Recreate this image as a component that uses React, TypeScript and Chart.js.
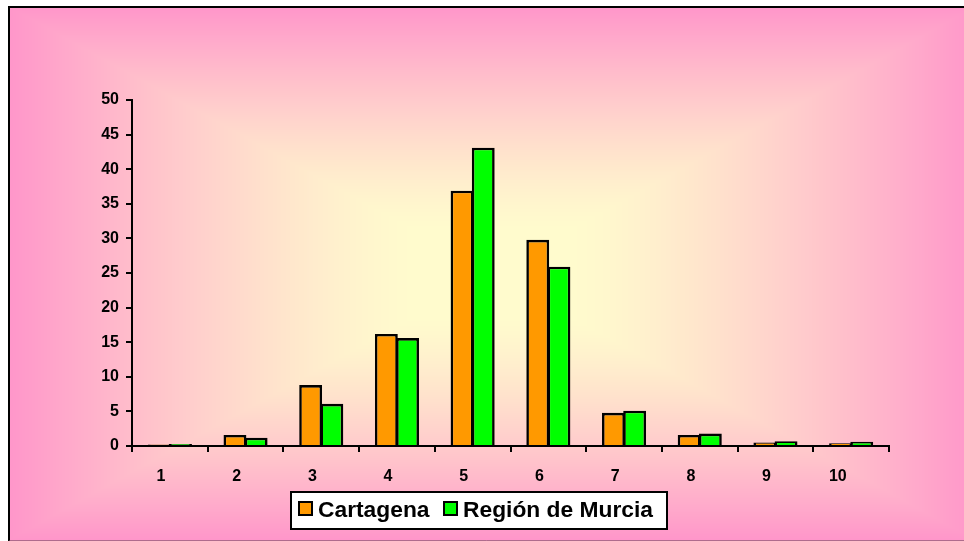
import React, { useEffect, useRef } from 'react';
import { Chart, registerables } from 'chart.js';

Chart.register(...registerables);

const categories = ['1', '2', '3', '4', '5', '6', '7', '8', '9', '10'];
const seriesNames = ['Cartagena', 'Región de Murcia'];
const cartagena = [0.2, 1.6, 8.8, 16.2, 36.9, 29.8, 4.8, 1.6, 0.5, 0.4];
const murcia = [0.3, 1.2, 6.1, 15.6, 43.1, 25.9, 5.1, 1.8, 0.7, 0.6];
const seriesColors = ['#FF9900', '#00FF00'];
const yMin = 0;
const yMax = 50;
const yStep = 5;

const FONT = '"Liberation Sans", Arial, Helvetica, sans-serif';

let bgCache: HTMLCanvasElement | null = null;

function buildBackground(w: number, h: number): HTMLCanvasElement {
  const c = document.createElement('canvas');
  c.width = w;
  c.height = h;
  const cx2 = c.getContext('2d') as CanvasRenderingContext2D;
  const img = cx2.createImageData(w, h);
  const x0 = 9, y0 = 7, x1 = 975, y1 = 540;
  const cx = (x0 + x1) / 2, cy = (y0 + y1) / 2;
  const hw = (x1 - x0) / 2, hh = (y1 - y0) / 2;
  const cC = [255, 251, 205];
  const cE = [255, 150, 202];
  const t0 = 0.16, t1 = 1.0;
  for (let y = 0; y < h; y++) {
    for (let x = 0; x < w; x++) {
      const i = (y * w + x) * 4;
      if (x < x0 || y < y0 || y > y1) {
        img.data[i] = 255; img.data[i + 1] = 255; img.data[i + 2] = 255; img.data[i + 3] = 255;
        continue;
      }
      const t = Math.max(Math.abs(x + 0.5 - cx) / hw, Math.abs(y + 0.5 - cy) / hh);
      let f = (t - t0) / (t1 - t0);
      f = Math.min(1, Math.max(0, f));
      f = Math.pow(f, 1.35);
      img.data[i] = Math.round(cC[0] + (cE[0] - cC[0]) * f);
      img.data[i + 1] = Math.round(cC[1] + (cE[1] - cC[1]) * f);
      img.data[i + 2] = Math.round(cC[2] + (cE[2] - cC[2]) * f);
      img.data[i + 3] = 255;
    }
  }
  cx2.putImageData(img, 0, 0);
  return c;
}

const backgroundPlugin = {
  id: 'bgFrame',
  beforeDraw(chart: any) {
    const ctx = chart.ctx as CanvasRenderingContext2D;
    if (!bgCache) bgCache = buildBackground(chart.width, chart.height);
    ctx.save();
    ctx.drawImage(bgCache, 0, 0);
    ctx.strokeStyle = '#000';
    ctx.lineWidth = 2;
    ctx.beginPath();
    ctx.moveTo(9, 541);
    ctx.lineTo(9, 7);
    ctx.lineTo(964, 7);
    ctx.stroke();
    ctx.strokeStyle = 'rgba(120,80,100,0.6)';
    ctx.lineWidth = 1;
    ctx.beginPath();
    ctx.moveTo(9, 540.5);
    ctx.lineTo(964, 540.5);
    ctx.stroke();
    ctx.restore();
  },
};

const legendPlugin = {
  id: 'boxLegend',
  afterDraw(chart: any) {
    const ctx = chart.ctx as CanvasRenderingContext2D;
    ctx.save();
    ctx.fillStyle = '#ffffff';
    ctx.fillRect(290, 491, 378, 39);
    ctx.strokeStyle = '#000';
    ctx.lineWidth = 2;
    ctx.strokeRect(291, 492, 376, 37);
    const markerX = [299, 444];
    const textX = [318, 463];
    ctx.font = `bold 22.8px ${FONT}`;
    ctx.textBaseline = 'alphabetic';
    ctx.textAlign = 'left';
    chart.data.datasets.forEach((ds: any, i: number) => {
      ctx.fillStyle = ds.backgroundColor;
      ctx.fillRect(markerX[i], 502, 13, 13);
      ctx.lineWidth = 2;
      ctx.strokeStyle = '#000';
      ctx.strokeRect(markerX[i], 502, 13, 13);
      ctx.fillStyle = '#000';
      ctx.fillText(ds.label, textX[i], 517);
    });
    ctx.restore();
  },
};

export default function App() {
  const ref = useRef<HTMLCanvasElement | null>(null);
  useEffect(() => {
    if (!ref.current) return;
    const tickFont = { family: FONT, size: 16, weight: 'bold' as const };
    const barCommon = {
      borderColor: '#000',
      borderWidth: 2.6,
      categoryPercentage: 0.56,
      barPercentage: 1.08,
      inflateAmount: 0,
    };
    const chart = new Chart(ref.current, {
      type: 'bar',
      data: {
        labels: categories,
        datasets: [
          { label: seriesNames[0], data: cartagena, backgroundColor: seriesColors[0], ...barCommon },
          { label: seriesNames[1], data: murcia, backgroundColor: seriesColors[1], ...barCommon },
        ],
      },
      options: {
        responsive: false,
        animation: false,
        devicePixelRatio: 1,
        layout: { padding: { left: 0, top: 100, right: 75, bottom: 0 } },
        plugins: {
          legend: { display: false },
          tooltip: { enabled: false },
          title: { display: false },
        },
        scales: {
          x: {
            ticks: {
              color: '#000',
              font: tickFont,
              padding: 15,
              maxRotation: 0,
              align: 'end',
              callback(this: any, value: any) {
                return this.getLabelForValue(value) + ' ';
              },
            },
            grid: {
              offset: true,
              drawOnChartArea: false,
              drawTicks: true,
              tickLength: 6,
              color: '#000',
              lineWidth: 2,
            },
            border: { display: true, color: '#000', width: 2 },
            afterFit(scale: any) {
              scale.height = 95;
            },
          },
          y: {
            min: yMin,
            max: yMax,
            ticks: { stepSize: yStep, color: '#000', font: tickFont, padding: 7 },
            grid: {
              drawOnChartArea: false,
              drawTicks: true,
              tickLength: 6,
              color: '#000',
              lineWidth: 2,
            },
            border: { display: true, color: '#000', width: 2 },
            afterFit(scale: any) {
              scale.width = 132;
            },
          },
        },
      },
      plugins: [backgroundPlugin, legendPlugin],
    });
    return () => chart.destroy();
  }, []);
  return (
    <div style={{ position: 'absolute', left: 0, top: 0, width: 964, height: 541 }}>
      <canvas ref={ref} width={964} height={541} style={{ display: 'block' }} />
    </div>
  );
}
